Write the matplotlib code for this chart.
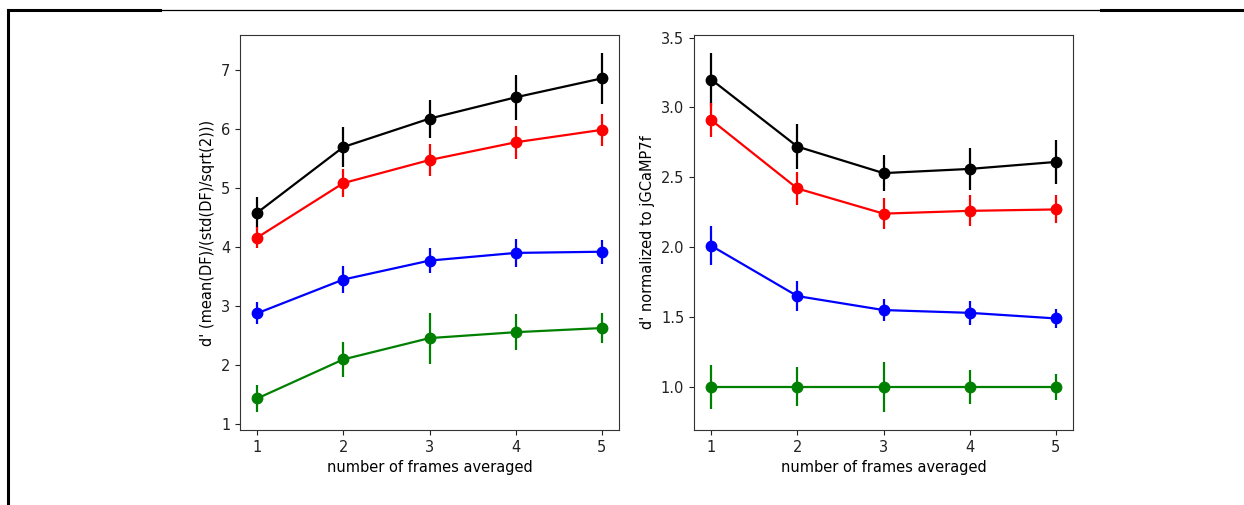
import matplotlib
matplotlib.use("Agg")
import matplotlib.pyplot as plt
from matplotlib.lines import Line2D

plt.rcParams["font.size"] = 10.5

frames = [1, 2, 3, 4, 5]
colors = ["black", "red", "blue", "green"]

# left panel: d'
left_vals = [
    [4.58, 5.69, 6.17, 6.53, 6.85],
    [4.16, 5.08, 5.47, 5.77, 5.98],
    [2.88, 3.45, 3.77, 3.90, 3.92],
    [1.44, 2.10, 2.46, 2.56, 2.63],
]
left_errs = [
    [0.26, 0.33, 0.32, 0.38, 0.43],
    [0.17, 0.24, 0.27, 0.28, 0.27],
    [0.19, 0.23, 0.21, 0.23, 0.20],
    [0.23, 0.30, 0.43, 0.30, 0.26],
]
# right panel: normalized d'
right_vals = [
    [3.20, 2.72, 2.53, 2.56, 2.61],
    [2.91, 2.42, 2.24, 2.26, 2.27],
    [2.01, 1.65, 1.55, 1.53, 1.49],
    [1.00, 1.00, 1.00, 1.00, 1.00],
]
right_errs = [
    [0.19, 0.16, 0.13, 0.15, 0.16],
    [0.12, 0.12, 0.11, 0.11, 0.10],
    [0.14, 0.11, 0.08, 0.085, 0.07],
    [0.16, 0.14, 0.18, 0.12, 0.095],
]

fig = plt.figure(figsize=(12.44, 5.05), dpi=100)
W, H = 1244, 505
ax1 = fig.add_axes([240 / W, 1 - 430 / H, (619 - 240) / W, (430 - 35) / H])
ax2 = fig.add_axes([694 / W, 1 - 430 / H, (1073 - 694) / W, (430 - 35) / H])

for ax, vals, errs in [(ax1, left_vals, left_errs), (ax2, right_vals, right_errs)]:
    for c, v, e in zip(colors, vals, errs):
        ax.errorbar(frames, v, yerr=e, color=c, marker="o", markersize=7.5,
                    linewidth=1.6, elinewidth=1.6)
    ax.set_xticks(frames)
    ax.set_xlabel("number of frames averaged")
    for s in ax.spines.values():
        s.set_color("#333333")
    ax.tick_params(colors="#222222")

ax1.set_ylabel("d' (mean(DF)/(std(DF)/sqrt(2)))")
ax2.set_ylabel("d' normalized to jGCaMP7f")

# surrounding border lines (table cell)
fig.add_artist(Line2D([8 / W, 160 / W], [1 - 10 / H, 1 - 10 / H], color="black", lw=2.2))
fig.add_artist(Line2D([160 / W, 1101 / W], [1 - 10 / H, 1 - 10 / H], color="black", lw=0.9))
fig.add_artist(Line2D([1101 / W, 1243 / W], [1 - 10 / H, 1 - 10 / H], color="black", lw=2.2))
fig.add_artist(Line2D([8 / W, 8 / W], [0, 1 - 10 / H], color="black", lw=2.2))

fig.savefig("out.png", dpi=100)
